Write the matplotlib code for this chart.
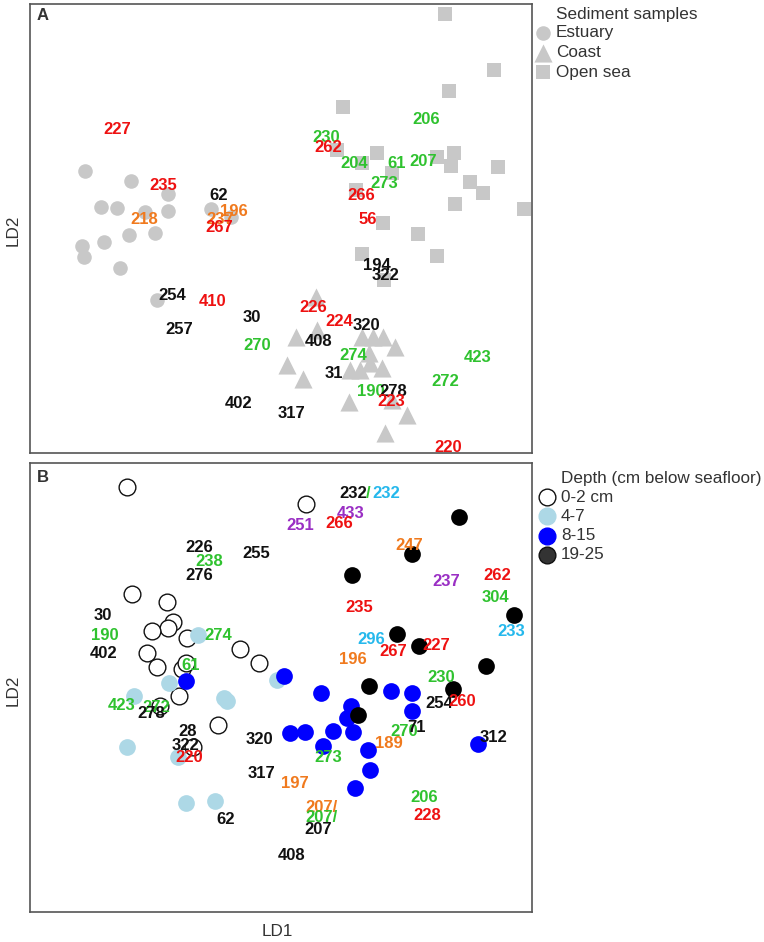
import numpy as np
import matplotlib
matplotlib.use('Agg')
import matplotlib.pyplot as plt

plt.rcParams['font.family'] = ['Liberation Sans', 'DejaVu Sans']

# LD scores (arbitrary units, screen-like: y grows down)
estuary_x = [85, 131, 101, 117, 145, 168, 168, 211, 231, 155, 129, 104, 82, 84, 120, 157]
estuary_y = [171, 181, 207, 208, 212, 194, 211, 209, 217, 233, 235, 242, 246, 257, 268, 300]

coast_x = [316, 317, 296, 362, 373, 383, 395, 369, 287, 303, 350, 360, 370, 382, 349, 392, 407, 385]
coast_y = [297, 330, 337, 337, 337, 337, 347, 353, 365, 379, 370, 370, 363, 368, 402, 400, 415, 433]

sea_x = [445, 494, 449, 343, 337, 377, 362, 392, 437, 454, 451, 498, 470, 483, 455, 524, 356, 383, 418, 362, 437, 384]
sea_y = [14, 70, 91, 107, 150, 153, 163, 173, 157, 153, 166, 167, 182, 193, 204, 209, 190, 223, 234, 254, 256, 280]

lab_a = ['227', '235', '62', '218', '196', '237', '267', '206', '230', '262', '204', '61', '207',
         '273', '266', '56', '254', '410', '257', '30', '270', '402', '317', '194', '322', '226',
         '224', '320', '408', '274', '31', '423', '272', '190', '278', '223', '220']
lab_a_x = [117, 163, 219, 144, 234, 220, 219, 426, 326, 328, 354, 397, 423,
           384, 361, 368, 172, 213, 179, 252, 257, 239, 292, 377, 386, 313,
           339, 366, 319, 353, 334, 478, 445, 371, 393, 391, 448]
lab_a_y = [130, 186, 196, 219, 212, 219, 228, 119, 137, 147, 163, 163, 162,
           183, 195, 220, 295, 302, 329, 318, 345, 403, 413, 266, 276, 307,
           321, 326, 342, 356, 374, 358, 382, 391, 392, 402, 447]
lab_a_c = ['r', 'r', 'k', 'o', 'o', 'o', 'r', 'g', 'g', 'r', 'g', 'g', 'g',
           'g', 'r', 'r', 'k', 'r', 'k', 'k', 'g', 'k', 'k', 'k', 'k', 'r',
           'r', 'k', 'k', 'g', 'k', 'g', 'g', 'g', 'k', 'r', 'r']

# panel B, by depth
d02_x = [127, 306, 132, 167, 173, 168, 152, 187, 147, 157, 182, 240, 259, 179, 160, 218, 193, 186]
d02_y = [487, 504, 594, 602, 622, 628, 631, 638, 653, 667, 669, 649, 663, 696, 706, 725, 747, 663]
d47_x = [198, 169, 134, 277, 227, 127, 178, 186, 215, 224]
d47_y = [635, 683, 696, 680, 701, 747, 757, 803, 801, 698]
d815_x = [186, 284, 321, 391, 412, 351, 347, 412, 290, 305, 333, 353, 323, 368, 370, 355, 478]
d815_y = [681, 676, 693, 691, 693, 706, 718, 711, 733, 732, 731, 732, 746, 750, 770, 788, 744]
d1925_x = [459, 412, 352, 514, 397, 419, 486, 369, 453, 358]
d1925_y = [517, 554, 575, 615, 634, 646, 666, 686, 689, 715]

lab_b = ['226', '238', '276', '255', '30', '190', '402', '274', '61',
         '232', '/', '232', '433', '251', '266', '247', '262', '237', '304', '235', '233',
         '296', '267', '227', '196', '230', '254', '260', '270', '71', '189', '273', '312',
         '197', '207/', '207/', '207', '206', '228', '408',
         '423', '272', '278', '28', '322', '220', '320', '317', '62']
lab_b_x = [199, 209, 199, 256, 103, 105, 104, 218, 191,
           353, 368, 386, 351, 300, 339, 409, 497, 446, 495, 359, 511,
           371, 393, 436, 353, 441, 439, 462, 404, 416, 389, 328, 493,
           295, 321, 321, 318, 424, 427, 292,
           122, 156, 151, 188, 185, 189, 259, 262, 226]
lab_b_y = [547, 562, 575, 553, 616, 635, 653, 635, 665,
           493, 493, 493, 514, 525, 524, 545, 575, 582, 597, 608, 631,
           639, 651, 646, 660, 678, 704, 702, 732, 727, 743, 758, 737,
           783, 807, 818, 830, 798, 816, 855,
           705, 707, 713, 732, 745, 757, 740, 774, 820]
lab_b_c = ['k', 'g', 'k', 'k', 'k', 'g', 'k', 'g', 'g',
           'k', 'g', 'c', 'p', 'p', 'r', 'o', 'r', 'p', 'g', 'r', 'c',
           'c', 'r', 'r', 'o', 'g', 'k', 'r', 'g', 'k', 'o', 'g', 'k',
           'o', 'o', 'g', 'k', 'g', 'r', 'k',
           'g', 'g', 'k', 'k', 'k', 'r', 'k', 'k', 'k']

cols = {'r': '#ee1111', 'g': '#2fc22f', 'o': '#f07a1e', 'k': '#111111',
        'p': '#9a2fc4', 'c': '#25b8ec'}
gray = '#c8c8c8'
fs_num = 12
fs_txt = 12.3

W, H = 764, 942
fig = plt.figure(figsize=(W / 100, H / 100), dpi=100)


def make_ax(x0, x1, y0, y1):
    ax = fig.add_axes([x0 / W, 1 - y1 / H, (x1 - x0) / W, (y1 - y0) / H])
    ax.set_xlim(x0, x1)
    ax.set_ylim(y1, y0)
    ax.set_xticks([])
    ax.set_yticks([])
    for s in ax.spines.values():
        s.set_color('#555555')
        s.set_linewidth(1.2)
    return ax


axA = make_ax(30, 532, 4, 453)
axB = make_ax(30, 532, 463, 912)

# A
axA.scatter(estuary_x, estuary_y, s=110, c=gray, marker='o', linewidths=0)
axA.scatter(coast_x, coast_y, s=170, c=gray, marker='^', linewidths=0)
axA.scatter(sea_x, sea_y, s=95, c=gray, marker='s', linewidths=0)
for t, x, y, c in zip(lab_a, lab_a_x, lab_a_y, lab_a_c):
    axA.text(x, y, t, color=cols[c], fontsize=fs_num, fontweight='bold', ha='center', va='center')

# B
axB.scatter(d02_x, d02_y, s=145, facecolors='white', edgecolors='#111111', linewidths=1.0)
axB.scatter(d47_x, d47_y, s=145, c='#add8e6', linewidths=0)
axB.scatter(d815_x, d815_y, s=145, c='#0000ff', linewidths=0)
axB.scatter(d1925_x, d1925_y, s=145, c='#000000', linewidths=0)
for t, x, y, c in zip(lab_b, lab_b_x, lab_b_y, lab_b_c):
    axB.text(x, y, t, color=cols[c], fontsize=fs_num, fontweight='bold', ha='center', va='center')

axA.text(37, 16, 'A', fontsize=12, fontweight='bold', color='#333333', ha='left', va='center')
axB.text(37, 477, 'B', fontsize=12, fontweight='bold', color='#333333', ha='left', va='center')

# overlay for legends and axis labels
ov = fig.add_axes([0, 0, 1, 1], zorder=-1)
ov.set_xlim(0, W)
ov.set_ylim(H, 0)
ov.axis('off')

leg_a = ['Estuary', 'Coast', 'Open sea']
ov.text(556, 14, 'Sediment samples', fontsize=fs_txt, color='#333333', va='center')
for i, (lab, m, s) in enumerate(zip(leg_a, ['o', '^', 's'], [110, 170, 95])):
    y = 33 + i * 19.5
    ov.scatter([543], [y], s=s, c=gray, marker=m, linewidths=0)
    ov.text(556, y, lab, fontsize=fs_txt, color='#333333', va='center')

leg_b = ['0-2 cm', '4-7', '8-15', '19-25']
leg_b_fc = ['white', '#add8e6', '#0000ff', '#333333']
leg_b_ec = ['#111111', '#add8e6', '#0000ff', '#111111']
ov.text(561, 478, 'Depth (cm below seafloor)', fontsize=fs_txt, color='#333333', va='center')
for i, (lab, fc, ec) in enumerate(zip(leg_b, leg_b_fc, leg_b_ec)):
    y = 497 + i * 19.3
    ov.scatter([547], [y], s=145, facecolors=fc, edgecolors=ec, linewidths=1.0)
    ov.text(561, y, lab, fontsize=fs_txt, color='#333333', va='center')

ov.text(277, 932, 'LD1', fontsize=fs_txt, color='#333333', ha='center', va='center')
ov.text(13, 230, 'LD2', fontsize=fs_txt, color='#333333', ha='center', va='center', rotation=90)
ov.text(13, 690, 'LD2', fontsize=fs_txt, color='#333333', ha='center', va='center', rotation=90)

fig.savefig('out.png', dpi=100, facecolor='white')
